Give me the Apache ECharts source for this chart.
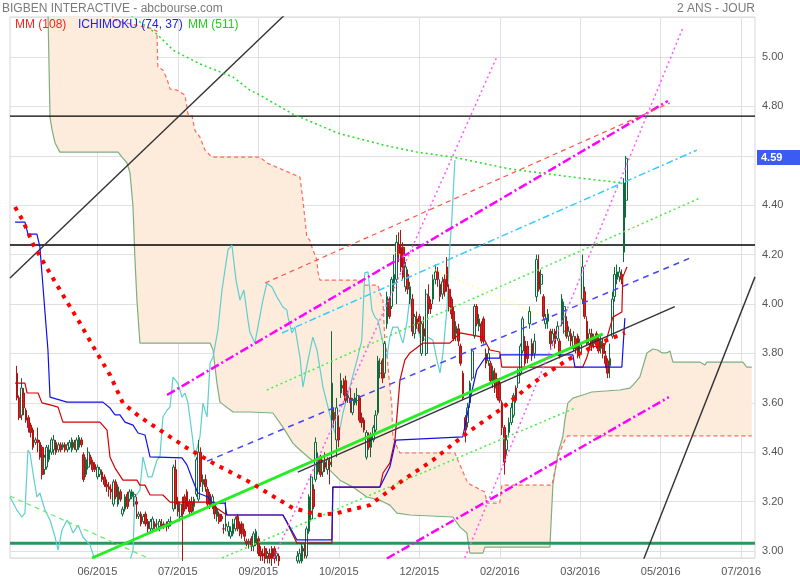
<!DOCTYPE html>
<html><head><meta charset="utf-8">
<script src="https://cdn.jsdelivr.net/npm/echarts/dist/echarts.min.js"></script>
<style>html,body{margin:0;padding:0;background:#fff}#c{width:800px;height:580px}</style>
</head><body><div id="c"></div>
<script>
// ---------- DATA ----------
const slotCount = 325;
const xLabelIdx = [38,73,108,143,178,213,248,283,318];
const xLabelText = ['06/2015','07/2015','09/2015','10/2015','12/2015','02/2016','03/2016','05/2016','07/2016'];
const firstCandle = 3;
// [open, close, low, high]
const ohlc = [
[3.72,3.62,3.61,3.75],[3.62,3.54,3.53,3.63],[3.55,3.66,3.53,3.70],[3.64,3.58,3.55,3.66],[3.57,3.53,3.52,3.58],
[3.54,3.50,3.48,3.55],[3.51,3.48,3.46,3.52],[3.49,3.42,3.41,3.50],[3.44,3.45,3.43,3.46],[3.45,3.44,3.40,3.50],
[3.44,3.38,3.37,3.45],[3.42,3.31,3.29,3.43],[3.33,3.38,3.31,3.39],[3.34,3.42,3.33,3.43],[3.37,3.41,3.36,3.43],
[3.40,3.45,3.39,3.46],[3.41,3.45,3.39,3.47],[3.44,3.40,3.39,3.45],[3.41,3.43,3.40,3.44],[3.43,3.41,3.40,3.44],
[3.42,3.43,3.41,3.44],[3.43,3.41,3.40,3.44],[3.41,3.43,3.40,3.44],[3.42,3.44,3.41,3.45],[3.41,3.45,3.40,3.46],
[3.44,3.42,3.41,3.45],[3.41,3.45,3.40,3.46],[3.42,3.46,3.41,3.47],[3.45,3.43,3.42,3.46],[3.39,3.29,3.28,3.40],
[3.31,3.37,3.30,3.38],[3.34,3.40,3.33,3.42],[3.38,3.36,3.35,3.39],[3.36,3.33,3.32,3.37],[3.35,3.33,3.32,3.36],
[3.30,3.34,3.29,3.35],[3.31,3.33,3.30,3.34],[3.32,3.29,3.28,3.33],[3.30,3.27,3.26,3.31],[3.27,3.26,3.24,3.29],
[3.26,3.25,3.22,3.28],[3.25,3.24,3.21,3.27],[3.19,3.28,3.18,3.29],[3.28,3.22,3.21,3.29],[3.19,3.26,3.18,3.27],
[3.24,3.21,3.20,3.25],[3.15,3.17,3.14,3.18],[3.17,3.22,3.16,3.23],[3.23,3.18,3.17,3.24],[3.21,3.24,3.20,3.25],
[3.22,3.24,3.21,3.25],[3.22,3.23,3.18,3.24],[3.20,3.19,3.13,3.22],[3.14,3.15,3.13,3.16],[3.15,3.11,3.10,3.16],
[3.12,3.14,3.11,3.15],[3.15,3.11,3.10,3.16],[3.12,3.09,3.07,3.13],[3.09,3.12,3.07,3.13],[3.09,3.13,3.08,3.14],
[3.11,3.10,3.09,3.12],[3.09,3.11,3.08,3.13],[3.10,3.12,3.08,3.13],[3.11,3.10,3.09,3.13],[3.10,3.11,3.09,3.12],
[3.11,3.10,3.08,3.12],[3.10,3.12,3.09,3.13],[3.11,3.12,3.10,3.14],[3.17,3.34,3.16,3.35],[3.33,3.19,3.17,3.37],
[3.20,3.16,3.14,3.22],[3.14,3.19,3.12,3.20],[3.17,3.15,2.96,3.22],[3.22,3.17,3.16,3.23],[3.24,3.18,3.17,3.25],
[3.20,3.16,3.15,3.21],[3.20,3.16,3.15,3.22],[3.18,3.21,3.16,3.22],[3.23,3.37,3.22,3.38],[3.21,3.40,3.20,3.45],
[3.40,3.28,3.26,3.42],[3.27,3.29,3.24,3.31],[3.29,3.26,3.24,3.31],[3.25,3.19,3.18,3.26],[3.23,3.18,3.17,3.24],
[3.19,3.22,3.17,3.23],[3.19,3.15,3.13,3.20],[3.14,3.17,3.12,3.18],[3.15,3.12,3.11,3.16],[3.14,3.13,3.12,3.15],
[3.09,3.09,3.07,3.11],[3.10,3.11,3.08,3.20],[3.08,3.10,3.06,3.12],[3.06,3.08,3.05,3.10],[3.07,3.11,3.06,3.13],
[3.09,3.13,3.08,3.14],[3.14,3.09,3.08,3.15],[3.11,3.07,3.06,3.12],[3.11,3.07,3.05,3.12],[3.08,3.06,3.04,3.09],
[3.04,3.03,3.02,3.05],[3.03,3.04,3.01,3.05],[3.05,3.02,3.00,3.06],[3.02,3.07,3.00,3.08],[3.03,3.08,3.02,3.09],
[3.05,2.99,2.98,3.06],[3.00,2.98,2.96,3.02],[2.99,2.98,2.96,3.01],[3.01,2.97,2.95,3.02],[2.98,2.99,2.95,3.00],
[2.99,2.97,2.95,3.01],[3.01,2.97,2.94,3.02],[3.01,2.97,2.95,3.02],[2.98,2.99,2.96,3.00],[2.98,2.96,2.94,2.99],
[2.95,2.93,2.91,2.96],[2.93,2.92,2.90,2.95],[2.92,2.94,2.90,2.95],[2.94,2.92,2.90,2.95],[2.92,2.93,2.90,2.95],
[2.93,2.92,2.90,2.95],[2.92,2.95,2.91,2.96],[2.96,2.98,2.95,3.00],[2.96,2.99,2.95,3.01],[2.96,3.02,2.95,3.03],
[3.01,3.00,2.97,3.03],[2.98,3.09,2.97,3.10],[3.08,3.22,3.07,3.23],[3.13,3.30,3.12,3.31],[3.25,3.18,3.17,3.27],
[3.29,3.44,3.28,3.46],[3.32,3.37,3.31,3.40],[3.38,3.31,3.30,3.39],[3.32,3.36,3.30,3.37],[3.36,3.34,3.32,3.40],
[3.33,3.37,3.31,3.38],[3.36,3.35,3.27,3.38],[3.53,3.68,3.34,3.89],[3.56,3.53,3.50,3.58],[3.45,3.58,3.38,3.62],
[3.50,3.45,3.42,3.55],[3.64,3.69,3.62,3.72],[3.67,3.66,3.63,3.70],[3.69,3.61,3.60,3.71],[3.62,3.63,3.60,3.65],
[3.62,3.60,3.56,3.66],[3.56,3.61,3.55,3.62],[3.60,3.62,3.59,3.64],[3.61,3.63,3.59,3.66],[3.62,3.53,3.52,3.63],
[3.54,3.52,3.50,3.56],[3.53,3.49,3.48,3.54],[3.38,3.48,3.37,3.49],[3.47,3.42,3.41,3.48],[3.42,3.47,3.38,3.48],
[3.45,3.50,3.44,3.51],[3.49,3.55,3.48,3.57],[3.56,3.77,3.55,3.79],[3.72,3.76,3.70,3.78],[3.77,3.70,3.68,3.78],
[3.72,3.84,3.70,3.85],[3.92,4.03,3.90,4.05],[4.02,3.95,3.94,4.03],[3.99,4.10,3.98,4.11],[4.08,4.12,4.05,4.20],
[4.10,4.25,4.00,4.28],[4.24,4.20,4.17,4.29],[4.23,4.15,4.13,4.30],[4.23,4.11,4.10,4.25],[4.07,4.15,4.05,4.17],
[4.12,4.06,4.04,4.14],[4.02,4.07,4.00,4.09],[4.02,3.89,3.87,4.04],[3.88,3.95,3.86,3.96],[3.94,3.92,3.90,3.97],
[3.95,3.89,3.88,3.96],[3.80,3.92,3.79,3.93],[3.90,3.87,3.85,3.95],[3.80,4.04,3.79,4.06],[4.03,4.00,3.96,4.08],
[4.00,3.98,3.96,4.02],[4.02,4.10,4.00,4.12],[4.10,4.13,4.08,4.16],[4.13,4.10,4.07,4.15],[4.08,4.03,4.01,4.10],
[4.04,4.09,4.02,4.11],[4.10,4.05,4.03,4.12],[4.15,4.07,4.05,4.19],[4.06,3.99,3.97,4.08],[4.02,3.96,3.94,4.03],
[3.97,3.86,3.85,3.99],[3.88,3.91,3.85,3.93],[3.90,3.85,3.83,3.92],[3.83,3.76,3.75,3.84],[3.72,3.62,3.61,3.73],
[3.54,3.49,3.44,3.55],[3.52,3.58,3.50,3.60],[3.60,3.68,3.58,3.69],[3.70,3.81,3.69,3.82],[3.87,3.99,3.86,4.00],
[3.99,3.92,3.91,4.00],[3.91,3.94,3.89,3.96],[3.92,3.85,3.84,3.93],[3.94,3.85,3.84,3.95],[3.80,3.76,3.74,3.82],
[3.77,3.80,3.75,3.82],[3.76,3.69,3.68,3.77],[3.68,3.73,3.66,3.75],[3.72,3.66,3.64,3.74],[3.69,3.62,3.61,3.70],
[3.68,3.61,3.60,3.69],[3.60,3.50,3.47,3.61],[3.50,3.36,3.31,3.51],[3.41,3.45,3.39,3.47],[3.48,3.52,3.46,3.54],
[3.52,3.58,3.51,3.60],[3.55,3.63,3.54,3.64],[3.66,3.61,3.60,3.67],[3.68,3.72,3.66,3.74],[3.72,3.83,3.71,3.84],
[3.81,3.94,3.80,3.95],[3.85,3.76,3.75,3.87],[3.83,3.78,3.76,3.85],[3.92,3.97,3.90,3.99],[3.84,3.79,3.77,3.86],
[3.80,3.85,3.78,3.88],[4.03,4.18,4.01,4.20],[4.13,4.06,4.05,4.20],[4.08,4.12,4.04,4.14],[4.03,3.95,3.94,4.04],
[3.92,3.94,3.90,3.96],[3.93,3.96,3.90,3.98],[3.89,3.84,3.82,3.90],[3.85,3.88,3.83,3.90],[3.89,3.84,3.82,3.90],
[3.86,3.91,3.85,3.93],[3.85,3.79,3.78,3.86],[3.92,4.02,3.91,4.04],[3.89,3.99,3.88,4.01],[3.93,3.87,3.86,3.95],
[3.87,3.89,3.85,3.91],[3.88,3.85,3.83,3.90],[3.82,3.87,3.81,3.89],[3.86,3.82,3.80,3.87],[3.87,3.79,3.78,3.88],
[3.80,3.84,3.78,3.86],[4.02,4.15,4.00,4.20],[4.05,3.95,3.94,4.07],[3.93,3.84,3.83,3.95],[3.84,3.88,3.82,3.90],
[3.88,3.83,3.81,3.90],[3.84,3.86,3.82,3.88],[3.88,3.84,3.82,3.89],[3.86,3.81,3.80,3.87],[3.82,3.85,3.80,3.87],
[3.84,3.80,3.78,3.86],[3.79,3.76,3.74,3.81],[3.77,3.72,3.70,3.78],[3.75,3.78,3.70,3.84],[3.87,4.02,3.86,4.05],
[4.03,4.12,4.01,4.15],[4.10,4.13,4.08,4.16],[4.11,4.13,4.09,4.15],[4.12,4.10,4.08,4.14],[4.21,4.49,4.17,4.51],
[4.42,4.59,4.35,4.60]
];
const lastPrice = 4.59;

// moving averages [slot, value]
const mm108 = [[2.2,4.393],[5.7,4.336],[10,4.243],[13,4.194],[21.7,4.057],[30.4,3.923],[37.8,3.802],[43.5,3.713],[49.1,3.599],[56.5,3.543],[65.2,3.49],[77,3.417],[88.3,3.356],[104.3,3.279],[123,3.174],[134.8,3.146],[142.2,3.154],[156.5,3.186],[170.9,3.287],[183.9,3.368],[198.7,3.478],[213,3.571],[227.4,3.68],[242.2,3.773],[256.5,3.842],[267.4,3.883]];
const mm511 = [[45,5.24],[53.5,5.162],[63.9,5.093],[70.9,5.028],[82.6,4.972],[97,4.919],[104.3,4.866],[108.7,4.846],[123,4.769],[142.6,4.692],[162.2,4.644],[177,4.615],[192.6,4.595],[217.4,4.547],[247.8,4.51],[266.5,4.49]];

// ichimoku
const tenkan = [[2.2,3.68],[6.5,3.68],[7.4,3.64],[12.2,3.64],[13.9,3.60],[18.3,3.59],[20.9,3.583],[23,3.522],[39.1,3.522],[42.2,3.49],[43.5,3.38],[45.7,3.336],[49.1,3.287],[55.2,3.287],[56.5,3.267],[58.7,3.267],[60.9,3.227],[66.5,3.227],[69.6,3.198],[86.1,3.198],[94.3,3.146],[118.7,3.146],[120.4,3.117],[124.8,3.032],[140,3.032],[140.4,3.259],[160.9,3.259],[162.2,3.316],[165.2,3.356],[167.4,3.449],[169.6,3.692],[171.7,3.773],[173.9,3.802],[179.6,3.842],[191.3,3.842],[195.7,3.883],[205.7,3.866],[208.7,3.814],[213,3.806],[213.9,3.745],[249.1,3.745],[250.9,3.785],[252.2,3.826],[258.7,3.834],[262.2,3.947],[266.1,3.968],[266.5,4.109],[268.3,4.15]];
const kijun = [[2.2,4.332],[6.5,4.332],[7.8,4.283],[11.7,4.283],[13,4.231],[16.5,3.814],[17.4,3.623],[24.8,3.603],[40.4,3.603],[43.5,3.579],[45.7,3.551],[47.8,3.551],[50,3.522],[53.5,3.51],[55.7,3.478],[58.7,3.47],[60.9,3.381],[74.8,3.377],[77,3.348],[79.1,3.296],[81.7,3.235],[86.1,3.219],[88.3,3.194],[93.5,3.194],[94.3,3.146],[118.7,3.146],[121.7,3.097],[124.8,3.045],[140,3.045],[140.4,3.259],[160.9,3.259],[165.2,3.34],[167.8,3.449],[196.9,3.462],[198.7,3.543],[200,3.611],[203,3.733],[206.5,3.781],[213,3.781],[213.2,3.794],[244.8,3.794],[245.7,3.745],[266.1,3.745],[267.4,3.943]];
const chikou = [[0,3.219],[3,3.166],[5.2,3.138],[6.5,3.154],[7.8,3.409],[8.7,3.397],[10,3.316],[11.7,3.219],[13,3.235],[15.2,3.166],[17.4,3.126],[19.6,3.057],[20.9,3.004],[22.6,3.085],[24.8,3.126],[26.1,3.105],[27.4,3.073],[29.6,3.105],[31.7,3.057],[34.8,3.024],[37,2.964],[39.1,2.92],[47.8,2.92],[52.2,2.964],[53.5,3.004],[54.3,3.219],[56.5,3.247],[57.8,3.381],[60,3.3],[61.7,3.3],[63.9,3.368],[65.2,3.381],[66.5,3.543],[68.3,3.571],[69.6,3.583],[70.9,3.704],[73,3.68],[74.8,3.623],[76.1,3.64],[77.4,3.599],[79.1,3.478],[80.4,3.381],[82.6,3.462],[83.9,3.599],[85.7,3.543],[87,3.761],[88.3,3.785],[90.4,3.895],[92.2,4.057],[94.8,4.219],[96.5,4.239],[98.3,4.097],[100,4.016],[101.7,4.057],[103.5,3.935],[104.3,3.887],[106.5,3.842],[110,4.016],[111.7,4.085],[113.9,4.069],[116.1,4.028],[118.7,3.988],[120.4,3.976],[120.9,3.947],[122.6,3.883],[123.9,3.907],[126.1,3.785],[127.4,3.664],[129.6,3.773],[131.7,3.866],[133.5,3.814],[136.1,3.664],[138.3,3.583],[140.4,3.502],[142.6,3.449],[144.8,3.559],[147.8,3.664],[150.9,3.773],[153,3.854],[154.3,4.126],[155.7,4.13],[157.4,3.976],[158.7,3.947],[160,3.935],[162.2,3.842],[163.9,3.785],[165.2,3.866],[166.5,3.907],[168.7,3.907],[170.4,3.854],[170.9,3.842],[172.6,3.923],[173.9,4.028],[175.2,3.947],[177,3.907],[178.3,3.866],[179.6,3.854],[181.7,3.866],[183.9,3.854],[185.7,3.773],[187,3.721],[188.3,3.802],[190,3.976],[191.3,4.231],[192.2,4.352],[193.5,4.583]];
const senkouA = [[16.5,5.19],[17.4,4.757],[18.3,4.704],[19.6,4.652],[21.7,4.615],[47,4.615],[48.7,4.595],[50.9,4.571],[52.2,4.53],[53.5,4.393],[54.3,4.19],[55.2,4.016],[56.5,3.842],[87,3.842],[88.3,3.814],[90,3.68],[91.3,3.603],[97,3.563],[104.3,3.563],[114.3,3.559],[118.7,3.502],[123,3.437],[126.1,3.409],[131.3,3.368],[133.5,3.352],[139.1,3.328],[143.5,3.287],[149.1,3.259],[155.2,3.219],[160.9,3.206],[165.2,3.186],[168.3,3.154],[173.9,3.146],[192.6,3.138],[195.7,3.097],[198.7,3.073],[200,2.992],[205.7,2.992],[206.5,3.016],[234.8,3.016],[236.1,3.267],[238.3,3.397],[240.4,3.462],[241.3,3.53],[242.6,3.599],[244.8,3.619],[249.1,3.632],[253,3.644],[265.2,3.652],[269.6,3.66],[270.9,3.672],[273.9,3.704],[277,3.802],[279.6,3.818],[281.7,3.814],[283.5,3.802],[285.7,3.802],[287,3.81],[288.3,3.765],[300,3.765],[302.2,3.753],[303,3.765],[318.7,3.765],[320.4,3.745],[322.6,3.745]];
const senkouB = [[16.5,5.40],[44.3,5.40],[44.8,5.15],[60.9,5.117],[63.9,5.105],[64.3,4.96],[66.5,4.947],[68.3,4.911],[69.6,4.87],[72.6,4.866],[76.1,4.846],[77.4,4.769],[79.1,4.765],[80.4,4.704],[82.6,4.676],[84.8,4.623],[87.8,4.595],[108.7,4.595],[111.7,4.571],[118.7,4.543],[126.1,4.514],[127.4,4.421],[129.1,4.271],[130.4,4.259],[131.3,4.231],[133.5,4.178],[133.9,4.13],[134.8,4.097],[152.2,4.097],[154.3,4.077],[160,4.077],[160.9,4.045],[162.2,4.016],[163,3.854],[163.9,3.802],[165.2,3.664],[166.1,3.583],[166.3,3.502],[166.5,3.462],[168.3,3.421],[169.6,3.397],[193.5,3.397],[194.8,3.368],[199.1,3.275],[206.5,3.239],[207.4,3.194],[213,3.194],[213.9,3.267],[235.7,3.267],[236.1,3.287],[238.3,3.381],[240,3.421],[241.3,3.449],[242.6,3.466],[322.6,3.466]];

// drawn trend lines [slot, price]
const trendBlackTop = [[0,4.105],[125,5.22]];
const trendBlackRight = [[274,2.93],[324,4.11]];
const trendBlackMid = [[125.2,3.32],[289.1,3.99]];
const trendGreenThick = [[35.7,2.972],[257.8,3.879]];
const trendMagentaUp = [[68.3,3.632],[286.1,4.822]];
const trendMagentaLow = [[163.9,2.97],[286.5,3.623]];
const trendRedDash = [[110.9,4.085],[287,4.814]];
const trendCyan = [[118.3,3.883],[298.7,4.623]];
const trendGreenDotUp = [[111.7,3.652],[300,4.429]];
const trendGreenDotLow = [[92.2,2.972],[245.7,3.579]];
const trendGreenDashDown = [[0,3.223],[70,2.93]];
const trendBlueDash = [[85.7,3.364],[295.7,4.186]];
const trendPinkSteep1 = [[114.8,2.972],[211.7,5.0]];
const trendPinkSteep2 = [[197.8,2.972],[292.6,5.117]];
const trendYellow = [[163,4.227],[230.4,3.955]];
const blackLevels = [4.761, 4.239];
const greenLevel = 3.032;

// ---------- CHART ----------
const FONT = '"Liberation Sans", Arial, sans-serif';
const chart = echarts.init(document.getElementById('c'));
const cats = Array.from({length: slotCount}, (_, i) => String(i));
const labelMap = {};
xLabelIdx.forEach((idx, k) => labelMap[idx] = xLabelText[k]);
const showIdx = (idx) => labelMap[idx] !== undefined;

function ln(data, color, width, type, z) {
  return {type: 'line', xAxisIndex: 1, yAxisIndex: 0, data, symbol: 'none', silent: true,
    lineStyle: {color, width, type: type || 'solid'}, z: z || 4, animation: false};
}
const series = [];
// cloud fill
series.push({
  type: 'custom', xAxisIndex: 1, yAxisIndex: 0, data: [0], silent: true, z: 1, animation: false,
  renderItem(params, api) {
    const pts = senkouA.map(p => api.coord(p)).concat(senkouB.slice().reverse().map(p => api.coord(p)));
    const cs = params.coordSys;
    return {type: 'polygon', shape: {points: pts}, style: {fill: '#fdebdc', stroke: null},
      clipPath: {type: 'rect', shape: {x: cs.x, y: cs.y, width: cs.width, height: cs.height}}};
  }
});
series.push(ln(senkouA, '#7fae80', 1.2, 'solid', 2));
series.push(ln(senkouB, '#ff6a5a', 1.2, [4, 3], 2));
// horizontal levels
blackLevels.forEach(v => series.push(ln([[0, v], [324, v]], '#000', 1.3, 'solid', 3)));
series.push(ln([[0, greenLevel], [324, greenLevel]], '#2e9460', 3, 'solid', 3));
// ichimoku lines
series.push(ln(chikou, '#5ccfcf', 1.2, 'solid', 3));
series.push(ln(tenkan, '#d40000', 1.2, 'solid', 5));
series.push(ln(kijun, '#1010ee', 1.2, 'solid', 5));
// candles
series.push({
  type: 'candlestick', xAxisIndex: 0, yAxisIndex: 0, z: 4, animation: false, silent: true,
  data: ohlc.map((d, k) => [k + firstCandle].concat(d)),
  encode: {x: 0, y: [1, 2, 3, 4]},
  barWidth: 2.2,
  itemStyle: {color: '#ffffff', color0: '#e01c1c', borderColor: '#0f6b3c', borderColor0: '#a81616', borderWidth: 1}
});
// trend lines
series.push(ln(trendBlackTop, '#333', 1.4));
series.push(ln(trendBlackRight, '#333', 1.4));
series.push(ln(trendBlackMid, '#333', 1.4, 'solid', 6));
series.push(ln(trendGreenThick, '#22ee22', 3, 'solid', 6));
series.push(ln(trendMagentaUp, '#ff00ff', 2.5, [9, 3, 2, 3], 6));
series.push(ln(trendMagentaLow, '#ff00ff', 2.5, [9, 3, 2, 3], 6));
series.push(ln(trendRedDash, '#ff5544', 1.2, [5, 4], 6));
series.push(ln(trendCyan, '#33ccff', 1.5, [7, 3, 2, 3], 6));
series.push(ln(trendGreenDotUp, '#44ee44', 1.5, [2, 3], 6));
series.push(ln(trendGreenDotLow, '#44ee44', 1.5, [2, 3], 6));
series.push(ln(trendGreenDashDown, '#66ee66', 1.2, [5, 4], 6));
series.push(ln(trendBlueDash, '#4444ff', 1.5, [6, 5], 6));
series.push(ln(trendPinkSteep1, '#ff55ff', 1.5, [2, 3], 6));
series.push(ln(trendPinkSteep2, '#ff55ff', 1.5, [2, 3], 6));
series.push(ln(trendYellow, '#ffff66', 1, [2, 3], 6));
// moving averages
series.push(ln(mm511, '#22dd22', 1.5, [2, 3], 6));
series.push(ln(mm108, '#ff0000', 4, [4, 6], 7));

chart.setOption({
  animation: false,
  backgroundColor: '#fff',
  textStyle: {fontFamily: FONT},
  grid: {left: 10, right: 45, top: 17, bottom: 22, show: true, borderColor: '#d6d6d6', borderWidth: 1},
  xAxis: [{
    type: 'category', data: cats, boundaryGap: false,
    axisLine: {show: false}, axisTick: {show: false},
    axisLabel: {interval: (i) => showIdx(i), formatter: (v, i) => labelMap[i] || '', color: '#555', fontSize: 11, margin: 8, fontFamily: FONT},
    splitLine: {show: true, interval: (i) => showIdx(i), lineStyle: {color: '#e0e0e0', width: 1}}
  }, {
    type: 'value', min: 0, max: slotCount - 1, show: false
  }],
  yAxis: [{
    type: 'value', position: 'right', min: 2.972, max: 5.162, minInterval: 0.2, maxInterval: 0.2,
    axisLine: {show: false}, axisTick: {show: false},
    axisLabel: {color: '#555', fontSize: 11, margin: 7, showMinLabel: false, showMaxLabel: false, fontFamily: FONT,
      formatter: v => v.toFixed(2)},
    splitLine: {show: true, lineStyle: {color: '#e0e0e0', width: 1}}
  }],
  series,
  graphic: [
    {type: 'text', x: 2, y: 9, z: 100, style: {text: 'BIGBEN INTERACTIVE - abcbourse.com', fill: '#7a7a7a', font: '12px ' + FONT, verticalAlign: 'middle'}},
    {type: 'text', x: 755, y: 9, z: 100, style: {text: '2 ANS - JOUR', fill: '#7a7a7a', font: '12px ' + FONT, align: 'right', verticalAlign: 'middle'}},
    {type: 'text', x: 15, y: 25, z: 100, style: {text: 'MM (108)', fill: '#ff2020', font: '12px ' + FONT, verticalAlign: 'middle'}},
    {type: 'text', x: 78, y: 25, z: 100, style: {text: 'ICHIMOKU (74, 37)', fill: '#2020ff', font: '12px ' + FONT, verticalAlign: 'middle'}},
    {type: 'text', x: 188, y: 25, z: 100, style: {text: 'MM (511)', fill: '#22cc22', font: '12px ' + FONT, verticalAlign: 'middle'}},
    {type: 'rect', x: 757, y: 150, z: 100, shape: {width: 43, height: 15}, style: {fill: '#3b5bf2'}},
    {type: 'text', x: 761, y: 158, z: 101, style: {text: lastPrice.toFixed(2), fill: '#fff', font: 'bold 11px ' + FONT, verticalAlign: 'middle'}}
  ]
});
</script></body></html>
